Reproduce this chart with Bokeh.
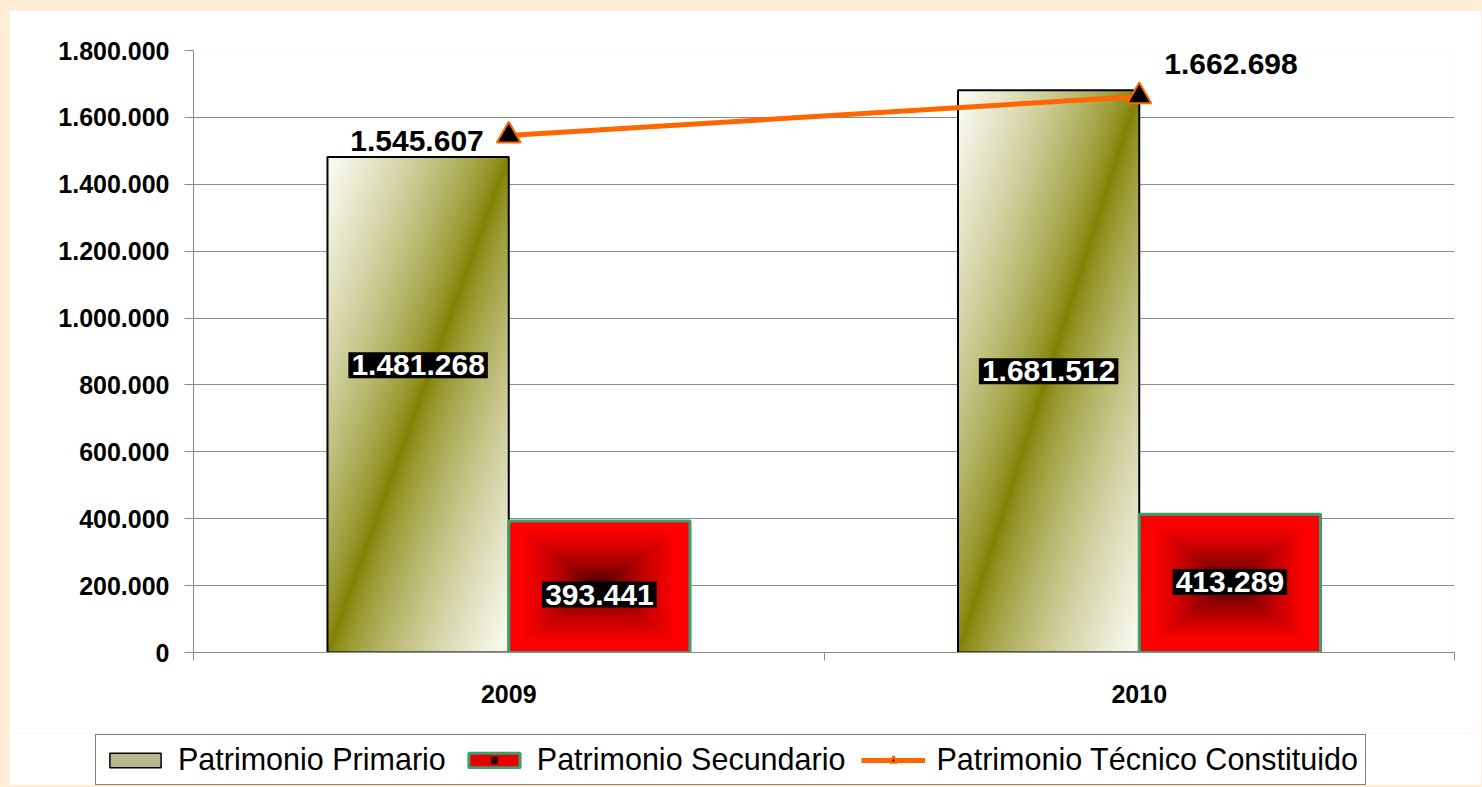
import numpy as np
from bokeh.plotting import figure
from bokeh.layouts import column
from bokeh.models import FixedTicker, Legend, LegendItem, GlobalInlineStyleSheet
from bokeh.core.properties import value
from bokeh.embed import file_html
from bokeh.resources import INLINE

# ---------------- data ----------------
years = ["2009", "2010"]
primario = [1481268, 1681512]
secundario = [393441, 413289]
tecnico = [1545607, 1662698]
y_ticks = [0, 200000, 400000, 600000, 800000, 1000000, 1200000, 1400000, 1600000, 1800000]
legend_labels = ["Patrimonio Primario", "Patrimonio Secundario", "Patrimonio Técnico Constituido"]

# --------------- styling ---------------
FONT = "Liberation Sans"
BAR_W = 0.2875
Y_MAX = 1800000
PX_PER_UNIT_Y = 602 / Y_MAX
PX_PER_UNIT_X = 630.5
prim_label_frac = [0.58, 0.50]
sec_label_frac = [0.44, 0.51]
GREEN = "#3C9F6E"
ORANGE = "#FF6600"
GRID = "#8C8C8C"
CREAM = "#FDEDD6"


def fmt(v):
    return f"{int(v):,}".replace(",", ".")


def to_rgba(rgb):
    h, w, _ = rgb.shape
    img = np.empty((h, w), dtype=np.uint32)
    view = img.view(dtype=np.uint8).reshape((h, w, 4))
    view[..., :3] = np.clip(rgb, 0, 255).astype(np.uint8)
    view[..., 3] = 255
    return img


def olive_gradient(wpx, hpx):
    u = np.linspace(0, 1, wpx)[None, :]
    v = np.linspace(0, 1, hpx)[:, None]
    d = (np.abs(u - v) ** 0.7)[..., None]
    olive = np.array([128, 128, 0], dtype=float)
    white = np.array([253, 253, 247], dtype=float)
    return to_rgba(olive * (1 - d) + white * d)


def red_gradient(wpx, hpx):
    u = np.linspace(-1, 1, wpx)[None, :]
    v = np.linspace(-1, 1, hpx)[:, None]
    t = np.maximum(np.abs(u), np.abs(v))
    r = 255 * np.clip(t / 0.85, 0, 1) ** 0.5
    rgb = np.zeros((hpx, wpx, 3))
    rgb[..., 0] = r
    return to_rgba(rgb)


centers = [i + 0.5 for i in range(len(years))]

p = figure(width=1472, height=723, x_range=(0, len(years)), y_range=(0, Y_MAX),
           output_backend="svg", toolbar_location=None,
           min_border_left=184, min_border_right=27, min_border_top=40, min_border_bottom=81)
p.border_fill_color = "white"
p.background_fill_color = "white"
p.outline_line_color = None
p.frame_align = False

# gradient-filled bars
wpx = int(BAR_W * PX_PER_UNIT_X)
for c, v in zip(centers, primario):
    p.image_rgba(image=[olive_gradient(wpx, max(2, int(v * PX_PER_UNIT_Y)))],
                 x=c - BAR_W, y=0, dw=BAR_W, dh=v)
for c, v in zip(centers, secundario):
    p.image_rgba(image=[red_gradient(wpx, max(2, int(v * PX_PER_UNIT_Y)))],
                 x=c, y=0, dw=BAR_W, dh=v)

p.vbar(x=[c - BAR_W / 2 for c in centers], top=primario, width=BAR_W,
       fill_alpha=0, line_color="black", line_width=2)
p.vbar(x=[c + BAR_W / 2 for c in centers], top=secundario, width=BAR_W,
       fill_alpha=0, line_color=GREEN, line_width=3)

# line
p.line(centers, tecnico, line_color=ORANGE, line_width=5)
p.scatter(centers, tecnico, marker="triangle", size=24, fill_color="black",
          line_color=ORANGE, line_width=2)

# inside labels
p.text(x=[c - BAR_W / 2 for c in centers], y=[v * f for v, f in zip(primario, prim_label_frac)],
       text=[fmt(v) for v in primario], text_color="white", text_font=value(FONT),
       text_font_style="bold", text_font_size="30px", text_align="center",
       text_baseline="middle", background_fill_color="black", padding=3)
p.text(x=[c + BAR_W / 2 for c in centers], y=[v * f for v, f in zip(secundario, sec_label_frac)],
       text=[fmt(v) for v in secundario], text_color="white", text_font=value(FONT),
       text_font_style="bold", text_font_size="30px", text_align="center",
       text_baseline="middle", background_fill_color="black", padding=3)

# line labels
p.text(x=[centers[0]], y=[tecnico[0]], text=[fmt(tecnico[0])], text_color="black",
       text_font=value(FONT), text_font_style="bold", text_font_size="30px",
       text_align="right", text_baseline="middle", x_offset=-25, y_offset=5)
p.text(x=[centers[1]], y=[tecnico[1]], text=[fmt(tecnico[1])], text_color="black",
       text_font=value(FONT), text_font_style="bold", text_font_size="30px",
       text_align="left", text_baseline="middle", x_offset=25, y_offset=-32)

# axes
p.yaxis.ticker = FixedTicker(ticks=y_ticks)
p.yaxis.major_label_overrides = {t: fmt(t) for t in y_ticks}
p.yaxis.major_label_text_font = FONT
p.yaxis.major_label_text_font_style = "bold"
p.yaxis.major_label_text_font_size = "25px"
p.yaxis.major_label_text_color = "black"
p.yaxis.major_tick_out = 9
p.yaxis.major_tick_in = 0
p.yaxis.major_label_standoff = 15
p.yaxis.minor_tick_line_color = None
p.yaxis.axis_line_color = GRID
p.yaxis.major_tick_line_color = GRID

p.xaxis.ticker = FixedTicker(ticks=centers, minor_ticks=list(range(len(years) + 1)))
p.xaxis.major_label_overrides = {c: y for c, y in zip(centers, years)}
p.xaxis.major_label_text_font = FONT
p.xaxis.major_label_text_font_style = "bold"
p.xaxis.major_label_text_font_size = "25px"
p.xaxis.major_label_text_color = "black"
p.xaxis.major_tick_line_color = None
p.xaxis.major_tick_out = 0
p.xaxis.major_tick_in = 0
p.xaxis.major_label_standoff = 24
p.xaxis.minor_tick_out = 8
p.xaxis.minor_tick_in = 0
p.xaxis.minor_tick_line_color = GRID
p.xaxis.axis_line_color = GRID

p.xgrid.visible = False
p.ygrid.ticker = FixedTicker(ticks=y_ticks[1:-1])
p.ygrid.grid_line_color = GRID

# legend strip (separate figure so the legend is not clipped)
pl = figure(width=1472, height=52, x_range=(0, 1), y_range=(0, 1),
            output_backend="svg", toolbar_location=None,
            x_axis_location=None, y_axis_location=None, min_border=0)
pl.grid.visible = False
pl.outline_line_color = None
pl.border_fill_color = "white"
pl.background_fill_color = "white"
pl.frame_align = False

# tiny legend proxies, hidden underneath the opaque legend box
PX = [0.5]
PY = [0.5]
lg1 = pl.vbar(x=PX, top=[0.52], bottom=[0.48], width=0.0005, fill_color="#B8B88C",
              line_color="black", line_width=1.5)
lg2 = pl.vbar(x=PX, top=[0.52], bottom=[0.48], width=0.0005, fill_color="#E80000",
              line_color=GREEN, line_width=3)
lg2b = pl.scatter(x=PX, y=PY, marker="square", size=1, fill_color="#2A0000", line_color=None)
lg3 = pl.line(x=[0.5, 0.5005], y=[0.5, 0.5], line_color=ORANGE, line_width=5)
lg3b = pl.scatter(x=PX, y=PY, marker="triangle", size=1, fill_color="black",
                  line_color=ORANGE, line_width=2.5)
legend = Legend(items=[LegendItem(label=legend_labels[0], renderers=[lg1]),
                       LegendItem(label=legend_labels[1], renderers=[lg2, lg2b]),
                       LegendItem(label=legend_labels[2], renderers=[lg3, lg3b])],
                location=(86, 0), orientation="horizontal",
                glyph_width=64, glyph_height=18, label_standoff=11, spacing=16,
                padding=7, margin=0, label_text_font=FONT, label_text_font_size="30.5px",
                label_text_color="black", border_line_color="black", border_line_width=1,
                background_fill_color="white", background_fill_alpha=1)
pl.add_layout(legend)

layout = column(p, pl, spacing=0)
layout.stylesheets = [GlobalInlineStyleSheet(
    css=f"html, body {{ background: {CREAM}; }} body {{ margin: 10px 0 0 9px; }}")]

open("out.html", "w").write(file_html(layout, INLINE))
